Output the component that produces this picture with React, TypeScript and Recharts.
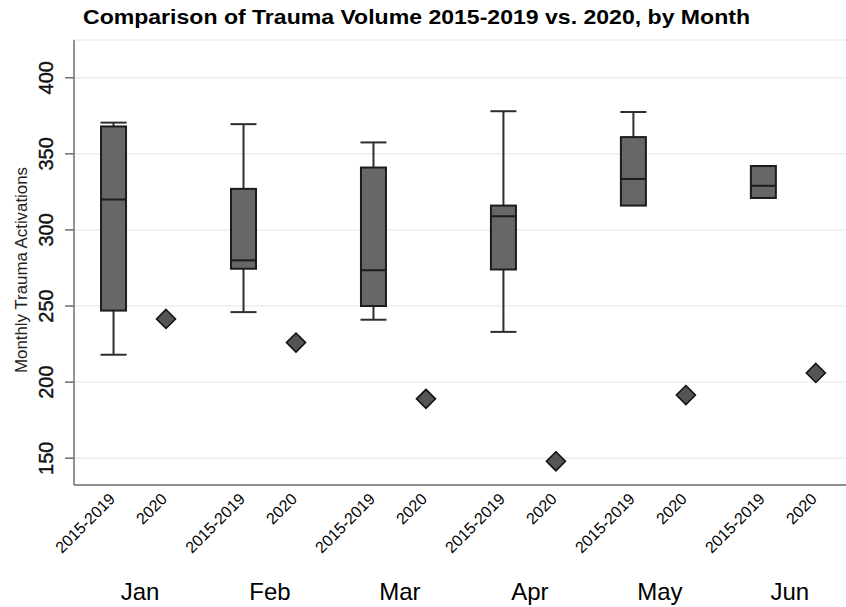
import React from "react";
import { ComposedChart, Bar, Scatter, XAxis, YAxis, CartesianGrid } from "recharts";

// 2015-2019 box plot stats per month, plus the 2020 value
const months = ["Jan", "Feb", "Mar", "Apr", "May", "Jun"];
const boxMin = [218, 246, 241, 233, 316, 321];
const boxQ1 = [247, 274.5, 250, 274, 316, 321];
const boxMedian = [320, 280, 273.5, 309, 333.5, 329];
const boxQ3 = [368, 327, 341, 316, 361, 342];
const boxMax = [370.5, 369.5, 357.5, 378, 377.5, 342];
const values2020 = [241.5, 226, 189, 148, 191.5, 206];
const groupLabels = ["2015-2019", "2020"];
const yTicks = [150, 200, 250, 300, 350, 400];

const FONT = "'Liberation Sans', Arial, sans-serif";
const GROUP_STEP = 2.5;

const boxData = months.map((m, i) => ({
  x: i * GROUP_STEP,
  month: m,
  min: boxMin[i],
  q1: boxQ1[i],
  median: boxMedian[i],
  q3: boxQ3[i],
  max: boxMax[i],
}));

const pointData = months.map((m, i) => ({ x: i * GROUP_STEP + 1, month: m, y: values2020[i] }));

const catTicks = months.flatMap((_, i) => [i * GROUP_STEP, i * GROUP_STEP + 1]);
const monthTicks = months.map((_, i) => i * GROUP_STEP + 0.5);

function BoxShape(props: any) {
  const { x, y, width, height, payload } = props;
  if (height == null || !payload) return null;
  const { min, q1, median, q3, max } = payload;
  const k = height / (max - min);
  const py = (v: number) => y + (max - v) * k;
  const cx = x + width / 2;
  const capW = width + 1;
  const line = "#2e2e2e";
  return (
    <g>
      {max > q3 && (
        <>
          <line x1={cx} x2={cx} y1={py(max)} y2={py(q3)} stroke={line} strokeWidth={2} />
          <line x1={cx - capW / 2} x2={cx + capW / 2} y1={py(max)} y2={py(max)} stroke={line} strokeWidth={2} />
        </>
      )}
      {min < q1 && (
        <>
          <line x1={cx} x2={cx} y1={py(q1)} y2={py(min)} stroke={line} strokeWidth={2} />
          <line x1={cx - capW / 2} x2={cx + capW / 2} y1={py(min)} y2={py(min)} stroke={line} strokeWidth={2} />
        </>
      )}
      <rect x={x} y={py(q3)} width={width} height={py(q1) - py(q3)} fill="#676767" stroke="#1c1c1c" strokeWidth={2} />
      <line x1={x} x2={x + width} y1={py(median)} y2={py(median)} stroke="#1c1c1c" strokeWidth={2} />
    </g>
  );
}

function Diamond(props: any) {
  const { cx, cy } = props;
  if (cx == null || cy == null) return null;
  const r = 9.5;
  return (
    <path
      d={`M${cx},${cy - r} L${cx + r},${cy} L${cx},${cy + r} L${cx - r},${cy} Z`}
      fill="#555555"
      stroke="#111111"
      strokeWidth={1.6}
    />
  );
}

function GroupTick(props: any) {
  const { x, y, payload } = props;
  const idx = catTicks.indexOf(payload.value);
  const label = groupLabels[idx % 2];
  const ax = x + 2;
  const ay = y + 15;
  return (
    <text
      x={ax}
      y={ay}
      textAnchor="end"
      transform={`rotate(-45, ${ax}, ${ay})`}
      fontFamily={FONT}
      fontSize={16}
      fill="#000"
    >
      {label}
    </text>
  );
}

function MonthTick(props: any) {
  const { x, y, payload } = props;
  const idx = monthTicks.indexOf(payload.value);
  return (
    <text x={x} y={y + 37} textAnchor="middle" fontFamily={FONT} fontSize={24} fill="#000">
      {months[idx]}
    </text>
  );
}

function YTick(props: any) {
  const { x, y, payload } = props;
  const ax = x - 12;
  return (
    <text
      x={ax}
      y={y}
      textAnchor="middle"
      transform={`rotate(-90, ${ax}, ${y})`}
      fontFamily={FONT}
      fontSize={20}
      stroke="#111"
      strokeWidth={0.4}
      fill="#111"
    >
      {payload.value}
    </text>
  );
}

export default function App() {
  return (
    <div style={{ position: "absolute", left: 0, top: 0, width: 846, height: 607, background: "#fff" }}>
      <ComposedChart
        width={846}
        height={607}
        data={boxData}
        margin={{ top: 40, right: 0, bottom: 0, left: 0 }}
      >
        <CartesianGrid horizontal vertical={false} stroke="#ececec" strokeWidth={1.5} />
        <XAxis
          xAxisId="cat"
          type="number"
          dataKey="x"
          domain={[-0.77, 14.08]}
          ticks={catTicks}
          allowDataOverflow
          height={78}
          tickLine={false}
          tickSize={0}
          tickMargin={0}
          axisLine={{ stroke: "#6e6e6e", strokeWidth: 1.5 }}
          tick={<GroupTick />}
          interval={0}
        />
        <XAxis
          xAxisId="month"
          type="number"
          dataKey="x"
          domain={[-0.77, 14.08]}
          ticks={monthTicks}
          allowDataOverflow
          height={44}
          tickLine={false}
          tickSize={0}
          tickMargin={0}
          axisLine={false}
          tick={<MonthTick />}
          interval={0}
        />
        <YAxis
          type="number"
          domain={[132.4, 424.8]}
          ticks={yTicks}
          allowDataOverflow
          width={74}
          tickSize={9}
          tickMargin={0}
          tickLine={{ stroke: "#6e6e6e", strokeWidth: 1.5 }}
          axisLine={{ stroke: "#6e6e6e", strokeWidth: 1.5 }}
          tick={<YTick />}
          interval={0}
        />
        <Bar
          xAxisId="cat"
          dataKey={(d: any) => [d.min, d.max]}
          barSize={25}
          shape={<BoxShape />}
          isAnimationActive={false}
        />
        <Scatter
          xAxisId="cat"
          data={pointData}
          dataKey="y"
          shape={<Diamond />}
          isAnimationActive={false}
        />
      </ComposedChart>
      <svg width={846} height={607} style={{ position: "absolute", left: 0, top: 0, pointerEvents: "none" }}>
        <text
          x={83}
          y={24}
          fontFamily={FONT}
          fontWeight="bold"
          fontSize={21}
          textLength={667}
          lengthAdjust="spacingAndGlyphs"
          fill="#000"
        >
          Comparison of Trauma Volume 2015-2019 vs. 2020, by Month
        </text>
        <text
          x={27}
          y={270}
          textAnchor="middle"
          transform="rotate(-90, 27, 270)"
          fontFamily={FONT}
          fontSize={16}
          textLength={206}
          lengthAdjust="spacingAndGlyphs"
          fill="#222"
        >
          Monthly Trauma Activations
        </text>
      </svg>
    </div>
  );
}
